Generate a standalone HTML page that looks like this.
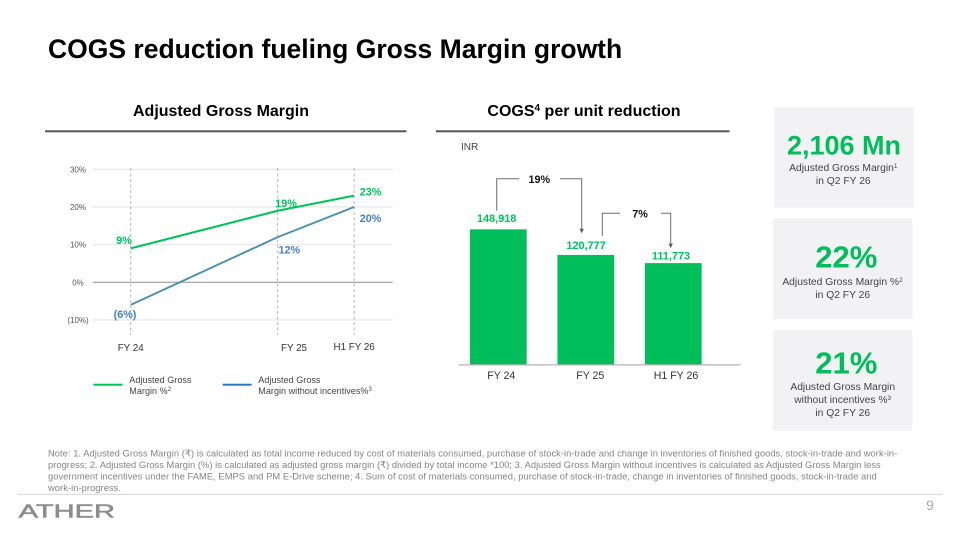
<!DOCTYPE html>
<html lang="en">
<head>
<meta charset="utf-8">
<title>COGS reduction fueling Gross Margin growth</title>
<style>
html,body{margin:0;padding:0;background:#fff;width:953px;height:535px;overflow:hidden}
svg{display:block;font-family:"Liberation Sans",Arial,sans-serif}
text{white-space:pre}
</style>
</head>
<body>
<svg id="slide" xmlns="http://www.w3.org/2000/svg" width="953" height="535" viewBox="0 0 953 535">
  <rect x="0" y="0" width="953" height="535" fill="#ffffff"/>
  <text x="48" y="58" font-size="26.5" font-weight="700" fill="#000">COGS reduction fueling Gross Margin growth</text>

  <text x="221" y="116" font-size="16" font-weight="700" fill="#000" text-anchor="middle">Adjusted Gross Margin</text>
  <rect x="45" y="130.3" width="361.5" height="2" fill="#555"/>
  <g id="line-chart"></g>

  <g>
    <rect x="93.5" y="383.7" width="29" height="2" fill="#00c25a"/>
    <text font-size="9.1" fill="#444"><tspan x="129.3" y="383">Adjusted Gross</tspan><tspan x="129.3" y="394">Margin %</tspan><tspan font-size="6" dy="-3">2</tspan></text>
  </g>
  <g>
    <rect x="222.7" y="383.7" width="29" height="2" fill="#2b78c4"/>
    <text font-size="9.1" fill="#444"><tspan x="258.3" y="383">Adjusted Gross</tspan><tspan x="258.3" y="394">Margin without incentives%</tspan><tspan font-size="6" dy="-3">3</tspan></text>
  </g>

  <text x="584" y="116" font-size="16" font-weight="700" fill="#000" text-anchor="middle">COGS<tspan font-size="10" dy="-5">4</tspan><tspan dy="5"> per unit reduction</tspan></text>
  <rect x="436" y="130.3" width="293.5" height="2" fill="#555"/>
  <text x="461" y="150" font-size="10" fill="#444">INR</text>
  <g id="bar-chart"></g>

  <g>
    <rect x="774.3" y="107.3" width="139.4" height="100.4" fill="#f2f2f4"/>
    <text x="844" y="154.3" font-size="27" font-weight="700" fill="#00bd5b" text-anchor="middle">2,106 Mn</text>
    <text font-size="10.3" fill="#444" text-anchor="middle"><tspan x="843.3" y="171">Adjusted Gross Margin<tspan font-size="6.5" dy="-3">1</tspan></tspan><tspan x="843.3" y="184">in Q2 FY 26</tspan></text>
  </g>
  <g>
    <rect x="773" y="218.7" width="139.4" height="100.6" fill="#f2f2f4"/>
    <text x="846.3" y="267.7" font-size="31" font-weight="700" fill="#00bd5b" text-anchor="middle">22%</text>
    <text font-size="10.3" fill="#444" text-anchor="middle"><tspan x="842.5" y="285">Adjusted Gross Margin %<tspan font-size="6.5" dy="-3">2</tspan></tspan><tspan x="842.7" y="298">in Q2 FY 26</tspan></text>
  </g>
  <g>
    <rect x="773" y="330" width="139.4" height="100.7" fill="#f2f2f4"/>
    <text x="846.3" y="373.3" font-size="31" font-weight="700" fill="#00bd5b" text-anchor="middle">21%</text>
    <text font-size="10.3" fill="#444" text-anchor="middle"><tspan x="842.7" y="390">Adjusted Gross Margin</tspan><tspan x="842.7" y="403">without incentives %<tspan font-size="6.5" dy="-3">3</tspan></tspan><tspan x="842.7" y="416">in Q2 FY 26</tspan></text>
  </g>

  <g font-size="9.35" fill="#848484">
    <text x="48" y="456.5" textLength="849.3" lengthAdjust="spacing">Note: 1. Adjusted Gross Margin (₹) is calculated as total income reduced by cost of materials consumed, purchase of stock-in-trade and change in inventories of finished goods, stock-in-trade and work-in-</text>
    <text x="48" y="468" textLength="832.7" lengthAdjust="spacing">progress; 2. Adjusted Gross Margin (%) is calculated as adjusted gross margin (₹) divided by total income *100; 3. Adjusted Gross Margin without incentives is calculated as Adjusted Gross Margin less</text>
    <text x="48" y="479.5" textLength="828.7" lengthAdjust="spacing">government incentives under the FAME, EMPS and PM E-Drive scheme; 4. Sum of cost of materials consumed, purchase of stock-in-trade, change in inventories of finished goods, stock-in-trade and</text>
    <text x="48" y="491" textLength="73" lengthAdjust="spacing">work-in-progress.</text>
  </g>
  <rect x="17.3" y="493.8" width="925.4" height="1" fill="#d4d4d4"/>
  <text x="18.7" y="517.6" font-size="18" fill="#8c8c8c" stroke="#8c8c8c" stroke-width="0.5" textLength="96.3" lengthAdjust="spacingAndGlyphs">ATHER</text>
  <text x="930" y="510" font-size="14" fill="#aaaaaa" text-anchor="middle">9</text>
</svg>

<script>
// Line chart data
const lineCategories = ['FY 24', 'FY 25', 'H1 FY 26'];
const lineYearOffsets = [0, 1, 1.52];
const marginPercent = [9, 19, 23];
const marginWithoutIncentives = [-6, 12, 20];
const marginPrintedLabels = ['9%', '19%', '23%'];
const withoutIncentivesPrintedLabels = ['(6%)', '12%', '20%'];
const lineTickValues = [30, 20, 10, 0, -10];
const lineTickLabels = ['30%', '20%', '10%', '0%', '(10%)'];

// Bar chart data
const barCategories = ['FY 24', 'FY 25', 'H1 FY 26'];
const cogsPerUnit = [148918, 120777, 111773];
const cogsPrintedLabels = ['148,918', '120,777', '111,773'];
const reductionLabels = ['19%', '7%'];

const SVG_NS = 'http://www.w3.org/2000/svg';
function make(parent, tag, attrs, content) {
  const el = document.createElementNS(SVG_NS, tag);
  for (const k in attrs) el.setAttribute(k, attrs[k]);
  if (content !== undefined) el.textContent = content;
  parent.appendChild(el);
  return el;
}

function drawLineChart() {
  const root = document.getElementById('line-chart');
  const xAxis = function (t) { return 130.7 + t * 147; };
  const yAxis = function (v) { return 282.3 - v * 3.767; };

  lineTickValues.forEach(function (v, i) {
    const grid = make(root, 'line', { x1: 92.7, x2: 392.7, y1: yAxis(v), y2: yAxis(v), stroke: v === 0 ? '#8f8f8f' : '#e4e4e4', 'stroke-width': v === 0 ? 1 : 1.1 });
    
    
    const tick = make(root, 'text', { x: 78, y: yAxis(v) + 3, 'font-size': 8, fill: '#555', 'text-anchor': 'middle' }, lineTickLabels[i]);
    
    
  });

  const categoryLabelNudges = [[0, 351], [16.3, 351], [0, 350]];
  lineYearOffsets.forEach(function (t, i) {
    const guide = make(root, 'line', { x1: xAxis(t), x2: xAxis(t), y1: 168, y2: 335, stroke: '#b5b5b5', 'stroke-width': 1, 'stroke-dasharray': '3 2.5' });
    
    
    const label = make(root, 'text', { x: xAxis(t) + categoryLabelNudges[i][0], y: categoryLabelNudges[i][1], 'font-size': 9.8, fill: '#333', 'text-anchor': 'middle' }, lineCategories[i]);
    
    
  });

  function pointsOf(values) {
    return values.map(function (v, i) { return xAxis(lineYearOffsets[i]).toFixed(2) + ',' + yAxis(v).toFixed(2); }).join(' ');
  }

  const blueLine = make(root, 'polyline', { points: pointsOf(marginWithoutIncentives), fill: 'none', stroke: '#4d8fae', 'stroke-width': 1.9 });
  
  
  const greenLine = make(root, 'polyline', { points: pointsOf(marginPercent), fill: 'none', stroke: '#00c25a', 'stroke-width': 2 });
  
  

  const greenNudges = [[-6.7, -4.4], [8.3, -3.7], [16.4, 0]];
  const blueNudges = [[-5.7, 13], [11.6, 16.4], [16.4, 15]];
  marginPercent.forEach(function (v, i) {
    const t = make(root, 'text', { x: xAxis(lineYearOffsets[i]) + greenNudges[i][0], y: yAxis(v) + greenNudges[i][1], 'font-size': 10.8, 'font-weight': 700, fill: '#00c25a', 'text-anchor': 'middle' }, marginPrintedLabels[i]);
    
    
  });
  marginWithoutIncentives.forEach(function (v, i) {
    const t = make(root, 'text', { x: xAxis(lineYearOffsets[i]) + blueNudges[i][0], y: yAxis(v) + blueNudges[i][1], 'font-size': 10.8, 'font-weight': 700, fill: '#3f82cc', 'text-anchor': 'middle' }, withoutIncentivesPrintedLabels[i]);
    
    
  });
}

function drawBarChart() {
  const root = document.getElementById('bar-chart');
  const baseline = 364.7;
  const barWidth = 56.7;
  const xBand = function (i) { return 498.3 + i * 87.5; };
  const yAxis = function (v) { return baseline - v * 0.000909; };

  const labelGaps = [7.3, 5.7, 3.5];
  const categoryNudges = [3, 4.5, 2.7];
  cogsPerUnit.forEach(function (v, i) {
    const bar = make(root, 'rect', { x: xBand(i) - barWidth / 2, y: yAxis(v), width: barWidth, height: baseline - yAxis(v), fill: '#00bf5b' });
    
    
    const value = make(root, 'text', { x: xBand(i) - 1.6 + (i === 0 ? 0 : i === 1 ? 1.9 : -0.7), y: yAxis(v) - labelGaps[i], 'font-size': 10.9, 'font-weight': 700, fill: '#00c25a', 'text-anchor': 'middle' }, cogsPrintedLabels[i]);
    
    
    const cat = make(root, 'text', { x: xBand(i) + categoryNudges[i], y: 379, 'font-size': 10.6, fill: '#333', 'text-anchor': 'middle' }, barCategories[i]);
    
    
  });

  const axis = make(root, 'line', { x1: 459, x2: 740.7, y1: baseline + 0.2, y2: baseline + 0.2, stroke: '#b4b4b4', 'stroke-width': 1.2 });
  
  

  // Reduction brackets hang off the bars they connect
  const brackets = [
    { from: 0, to: 1, startX: 496.7, startGap: 18.6, topGap: 50.6, gapLeft: 519.3, gapRight: 560, endX: 581.7, endGap: 21.7, textX: 539.3 },
    { from: 1, to: 2, startX: 602.3, startGap: 19, topGap: 41.7, gapLeft: 620, gapRight: 661, endX: 670.7, endGap: 15, textX: 640 }
  ];
  brackets.forEach(function (b, i) {
    const top = yAxis(cogsPerUnit[b.from]) - b.topGap;
    const startY = yAxis(cogsPerUnit[b.from]) - b.startGap;
    const endY = yAxis(cogsPerUnit[b.to]) - b.endGap;
    const d = 'M' + b.startX + ' ' + startY + 'V' + top + 'H' + b.gapLeft + 'M' + b.gapRight + ' ' + top + 'H' + b.endX + 'V' + (endY - 4);
    const path = make(root, 'path', { d: d, fill: 'none', stroke: '#6e6e6e', 'stroke-width': 1 });
    
    
    const head = 'M' + (b.endX - 2.2) + ' ' + (endY - 4.5) + 'H' + (b.endX + 2.2) + 'L' + b.endX + ' ' + endY + 'Z';
    const arrow = make(root, 'path', { d: head, fill: '#5c5c5c' });
    
    
    const label = make(root, 'text', { x: b.textX, y: top + 4.1, 'font-size': 10.8, 'font-weight': 700, fill: '#111', 'text-anchor': 'middle' }, reductionLabels[i]);
    
    
  });
}

drawLineChart();
drawBarChart();
</script>
</body>
</html>
